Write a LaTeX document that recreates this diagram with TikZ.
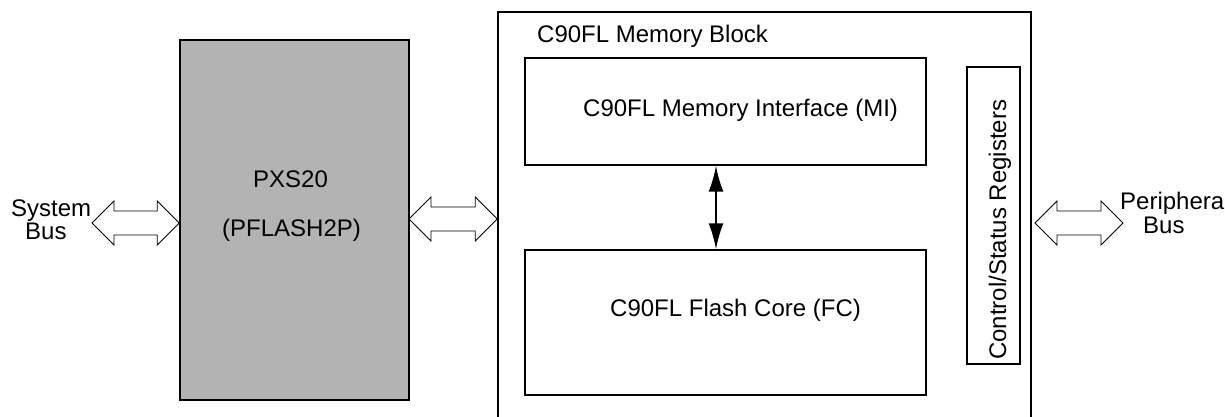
\documentclass[tikz,border=0pt]{standalone}
\usepackage{fontspec}
\setmainfont{Liberation Sans}
\usetikzlibrary{arrows.meta}
\definecolor{pxsgray}{HTML}{B3B3B3}
\tikzset{
  blk/.style={draw,line width=1.4pt,minimum width=#1,inner sep=0pt},
  txt/.style={inner sep=0pt,font=\fontsize{24}{28}\selectfont},
  bus/.style={draw,line width=0.8pt,fill=white},
}
% hollow double arrow from tip #1 to tip #2
\newcommand{\busarrow}[2]{%
  \draw[bus] (#1) -- ++(22,-22) -- ++(0,10) -- ($(#2)+(-22,-12)$) -- ++(0,-10)
    -- (#2) -- ++(-22,22) -- ++(0,-10) -- ($(#1)+(22,12)$) -- ++(0,10) -- cycle;}
\usetikzlibrary{calc}
\begin{document}
\begin{tikzpicture}[x=1pt,y=-1pt]
\useasboundingbox (0,0) rectangle (1225,417);

\node[blk=229pt,minimum height=360pt,fill=pxsgray] (pxs) at (294.5,220) {};
\node[blk=533pt,minimum height=428pt] (c90) at (764.5,226) {};
\node[blk=401pt,minimum height=107pt] (mi) at (725.5,111.5) {};
\node[blk=401pt,minimum height=145pt] (fc) at (725.5,322.5) {};
\node[blk=53pt,minimum height=297pt] (csr) at (993.5,215.5) {};

\node[txt,anchor=base west] (blocktxt) at (537,43) {C90FL Memory Block};
\node[txt,anchor=base west] (mitxt) at (583,117) {C90FL Memory Interface (MI)};
\node[txt,anchor=base west] (fctxt) at (610,316) {C90FL Flash Core (FC)};
\node[txt,anchor=base west] (pxstxt) at (253,187) {PXS20};
\node[txt,anchor=base west] (pfltxt) at (222,236) {(PFLASH2P)};
\node[txt,anchor=base west,rotate=90] (csrtxt) at (1006,360) {Control/Status Registers};

\node[txt,anchor=base west] (sys) at (11,216) {System};
\node[txt,anchor=base west] (sysbus) at (25,239) {Bus};
\node[txt,anchor=base west] (per) at (1120,209) {Peripheral};
\node[txt,anchor=base west] (perbus) at (1143,233) {Bus};

% bus arrows
\coordinate (sysl) at (92,223);
\coordinate (midl) at (409,219);
\coordinate (perl) at (1035,223);
\busarrow{sysl}{sysl -| pxs.west}
\busarrow{midl}{midl -| c90.west}
\busarrow{perl}{1123,223}

\coordinate (link) at (716,0);
\draw[line width=2pt,{Latex[length=26pt,width=15pt]}-{Latex[length=26pt,width=15pt]}]
  (link |- mi.south) -- (link |- fc.north);
\end{tikzpicture}
\end{document}
